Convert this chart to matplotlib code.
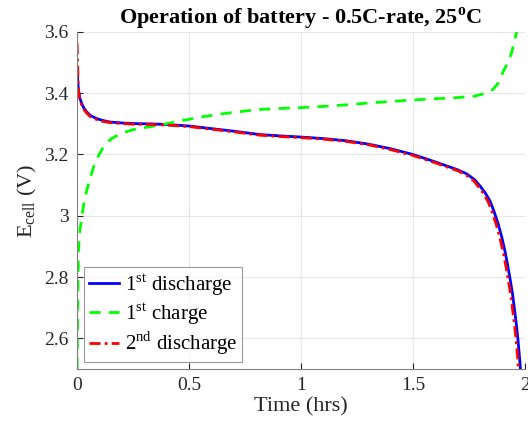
import numpy as np
import matplotlib
matplotlib.use("Agg")
import matplotlib.pyplot as plt

# ── Schrift: Times-aehnlich wie im MATLAB-Original ──────────
plt.rcParams['font.family'] = ['Liberation Serif', 'DejaVu Serif']
plt.rcParams['mathtext.fontset'] = 'custom'
plt.rcParams['mathtext.rm'] = 'Liberation Serif'
plt.rcParams['mathtext.bf'] = 'Liberation Serif:bold'

# ── Daten ───────────────────────────────────────────────────
t_dis1 = [0.0, 0.003, 0.006, 0.012, 0.021, 0.03, 0.043, 0.06, 0.088, 0.115,
          0.147, 0.2, 0.25, 0.326, 0.4, 0.5, 0.594, 0.7, 0.817, 0.9,
          1.0, 1.1, 1.2, 1.3, 1.4, 1.5, 1.591, 1.65, 1.70,
          1.740, 1.775, 1.799, 1.822, 1.844, 1.862, 1.881, 1.897, 1.911, 1.923,
          1.933, 1.945, 1.955, 1.963, 1.970, 1.976, 1.98]
E_dis1 = [3.481, 3.44, 3.41, 3.385, 3.366, 3.352, 3.339, 3.327, 3.317, 3.311,
          3.306, 3.303, 3.301, 3.300, 3.298, 3.293, 3.285, 3.276, 3.265, 3.261,
          3.257, 3.252, 3.245, 3.234, 3.219, 3.200, 3.178, 3.163, 3.150,
          3.137, 3.118, 3.098, 3.076, 3.049, 3.015, 2.973, 2.93, 2.885, 2.84,
          2.798, 2.745, 2.688, 2.64, 2.59, 2.54, 2.503]

t_chg1 = [0.0, 0.002, 0.004, 0.006, 0.012, 0.021, 0.03, 0.043, 0.058, 0.073,
          0.095, 0.117, 0.15, 0.192, 0.25, 0.311, 0.37, 0.45, 0.55, 0.65,
          0.75, 0.817, 0.9, 1.0, 1.1, 1.2, 1.3, 1.4, 1.5, 1.6,
          1.7, 1.77, 1.80, 1.83, 1.857, 1.88, 1.90, 1.92, 1.94,
          1.952, 1.963]
E_chg1 = [2.50, 2.65, 2.77, 2.885, 2.95, 2.994, 3.04, 3.082, 3.122, 3.158,
          3.195, 3.224, 3.25, 3.268, 3.281, 3.289, 3.296, 3.308, 3.322, 3.333,
          3.342, 3.347, 3.350, 3.353, 3.357, 3.362, 3.368, 3.373, 3.378, 3.382,
          3.386, 3.390, 3.395, 3.402, 3.412, 3.432, 3.465, 3.495, 3.53,
          3.565, 3.60]

t_dis2 = [0.0, 0.002, 0.004, 0.006, 0.012, 0.021, 0.03, 0.043, 0.06, 0.088,
          0.115, 0.147, 0.2, 0.25, 0.326, 0.4, 0.5, 0.594, 0.7, 0.817,
          0.9, 1.0, 1.1, 1.2, 1.3, 1.4, 1.5, 1.591, 1.65,
          1.70, 1.736, 1.77, 1.793, 1.815, 1.836, 1.854, 1.873, 1.889, 1.903,
          1.915, 1.925, 1.937, 1.947, 1.955, 1.962, 1.968, 1.971]
E_dis2 = [3.563, 3.50, 3.45, 3.41, 3.38, 3.36, 3.347, 3.335, 3.323, 3.314,
          3.308, 3.304, 3.301, 3.299, 3.298, 3.296, 3.291, 3.283, 3.274, 3.263,
          3.259, 3.255, 3.250, 3.243, 3.232, 3.216, 3.197, 3.175, 3.160,
          3.147, 3.134, 3.115, 3.095, 3.073, 3.046, 3.012, 2.97, 2.927, 2.882,
          2.837, 2.795, 2.742, 2.685, 2.637, 2.587, 2.537, 2.50]

labels = [r'1$^{\rm st}$ discharge', r'1$^{\rm st}$ charge',
          r'2$^{\rm nd}$ discharge']

# ── Plot ────────────────────────────────────────────────────
fig = plt.figure(figsize=(5.28, 4.32), dpi=100)
ax = fig.add_axes([0.146, 0.146, 0.848, 0.780])

ax.plot(t_dis1, E_dis1, color=(0, 0, 1), lw=2, label=labels[0])
ax.plot(t_chg1, E_chg1, color=(0, 1, 0), lw=2, ls=(0, (4, 3)), label=labels[1])
ax.plot(t_dis2, E_dis2, color=(1, 0, 0), lw=2, ls=(0, (4, 1.5, 1, 1.5)),
        label=labels[2])

ax.set_xlim(0, 2)
ax.set_ylim(2.5, 3.6)
ax.set_xticks([0, 0.5, 1, 1.5, 2])
ax.set_xticklabels(['0', '0.5', '1', '1.5', '2'])
ax.set_yticks([2.6, 2.8, 3.0, 3.2, 3.4, 3.6])
ax.set_yticklabels(['2.6', '2.8', '3', '3.2', '3.4', '3.6'])
ax.tick_params(direction='in', labelsize=14, colors='#262626', length=4, pad=6)
ax.grid(True, color='#e6e6e6', lw=0.8)
ax.set_axisbelow(True)
for s in ['top', 'right']:
    ax.spines[s].set_visible(False)
for s in ['left', 'bottom']:
    ax.spines[s].set_color('#808080')

ax.set_xlabel('Time (hrs)', fontsize=16, color='#262626', labelpad=2)
ax.set_ylabel(r'E$_{\rm cell}$ (V)', fontsize=16, color='#262626', labelpad=4)
ax.set_title(r'Operation of battery - 0.5C-rate, 25$^{\mathbf{o}}$C',
             fontsize=16, fontweight='bold', pad=4)

leg = ax.legend(loc='lower left', fontsize=15, frameon=True, fancybox=False,
                edgecolor='#808080', handlelength=1.45, borderaxespad=0.35,
                labelspacing=0.15, handletextpad=0.3, borderpad=0.2)
leg.get_frame().set_linewidth(0.8)

plt.savefig('out.png', dpi=100)
